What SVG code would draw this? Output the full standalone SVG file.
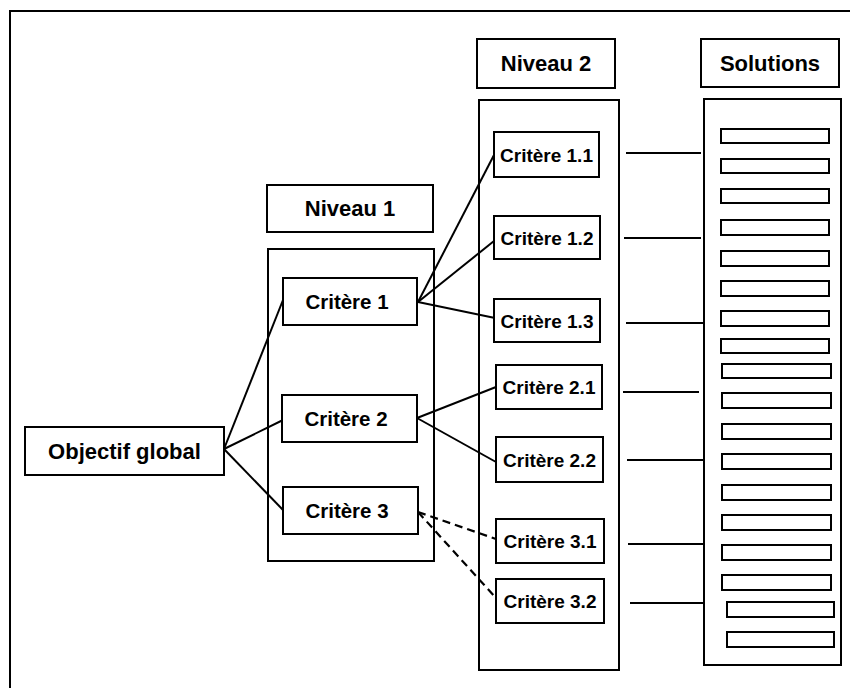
<svg xmlns="http://www.w3.org/2000/svg" width="850" height="688" viewBox="0 0 850 688">
<style>
.b{fill:#fff;stroke:#000;stroke-width:2}
.bar{fill:#fff;stroke:#000;stroke-width:2}
.h{font-family:"Liberation Sans",Arial,sans-serif;font-weight:bold;font-size:22px;text-anchor:middle;fill:#000}
.c{font-family:"Liberation Sans",Arial,sans-serif;font-weight:bold;font-size:20.5px;text-anchor:middle;fill:#000}
.s{font-family:"Liberation Sans",Arial,sans-serif;font-weight:bold;font-size:19px;text-anchor:middle;fill:#000}
.ln{stroke:#000;stroke-width:2;fill:none}
.d{stroke:#000;stroke-width:2.2;fill:none;stroke-dasharray:8 5}
</style>
<rect width="850" height="688" fill="#fff"/>
<path d="M10 688 V11 H850" fill="none" stroke="#000" stroke-width="2"/>

<g id="columns">
<rect class="b" x="268" y="249" width="166" height="312"/>
<rect class="b" x="479" y="100" width="140" height="570"/>
<rect class="b" x="704" y="99" width="137" height="566"/>
</g>

<g id="connectors">
<line class="ln" x1="224" y1="449" x2="283" y2="300"/>
<line class="ln" x1="224" y1="449" x2="283" y2="420"/>
<line class="ln" x1="224" y1="449" x2="283" y2="510"/>
<line class="ln" x1="418" y1="302" x2="494" y2="155"/>
<line class="ln" x1="418" y1="302" x2="494" y2="241"/>
<line class="ln" x1="418" y1="302" x2="495" y2="318"/>
<line class="ln" x1="417" y1="418" x2="496" y2="387"/>
<line class="ln" x1="417" y1="418" x2="496" y2="462"/>
<line class="d" x1="418" y1="512" x2="496" y2="539"/>
<line class="d" x1="418" y1="512" x2="496" y2="598"/>
<line class="ln" x1="626" y1="153" x2="701" y2="153"/>
<line class="ln" x1="624" y1="238" x2="701" y2="238"/>
<line class="ln" x1="626" y1="323" x2="703" y2="323"/>
<line class="ln" x1="623" y1="392" x2="699" y2="392"/>
<line class="ln" x1="627" y1="460" x2="703" y2="460"/>
<line class="ln" x1="628" y1="544" x2="704" y2="544"/>
<line class="ln" x1="630" y1="603" x2="705" y2="603"/>
</g>

<g id="header-niveau1"><rect class="b" x="267" y="185" width="166" height="47"/><text class="h" x="350" y="216">Niveau 1</text></g>
<g id="header-niveau2"><rect class="b" x="477" y="39" width="138" height="49"/><text class="h" x="546" y="71">Niveau 2</text></g>
<g id="header-solutions"><rect class="b" x="701" y="39" width="138" height="48"/><text class="h" x="770" y="71">Solutions</text></g>

<g id="objectif"><rect class="b" x="25" y="427" width="199" height="48"/><text class="h" x="124.5" y="459">Objectif global</text></g>

<g id="critere1"><rect class="b" x="283" y="278" width="134" height="47"/><text class="c" x="347" y="309">Critère 1</text></g>
<g id="critere2"><rect class="b" x="282" y="395" width="135" height="47"/><text class="c" x="346" y="426">Critère 2</text></g>
<g id="critere3"><rect class="b" x="283" y="487" width="135" height="47"/><text class="c" x="347" y="518">Critère 3</text></g>

<g id="critere1-1"><rect class="b" x="494" y="132" width="105" height="45"/><text class="s" x="546.5" y="161.5">Critère 1.1</text></g>
<g id="critere1-2"><rect class="b" x="494" y="216" width="106" height="43"/><text class="s" x="547" y="244.5">Critère 1.2</text></g>
<g id="critere1-3"><rect class="b" x="494" y="299" width="106" height="43"/><text class="s" x="547" y="327.5">Critère 1.3</text></g>
<g id="critere2-1"><rect class="b" x="496" y="365" width="106" height="44"/><text class="s" x="549" y="394">Critère 2.1</text></g>
<g id="critere2-2"><rect class="b" x="496" y="437" width="107" height="45"/><text class="s" x="549.5" y="466.5">Critère 2.2</text></g>
<g id="critere3-1"><rect class="b" x="496" y="519" width="108" height="44"/><text class="s" x="550" y="548">Critère 3.1</text></g>
<g id="critere3-2"><rect class="b" x="496" y="579" width="108" height="44"/><text class="s" x="550" y="608">Critère 3.2</text></g>

<g id="solutions">
<rect class="bar" x="721" y="129" width="108" height="14"/>
<rect class="bar" x="721" y="159" width="108" height="14"/>
<rect class="bar" x="721" y="189" width="108" height="14"/>
<rect class="bar" x="721" y="220" width="108" height="15"/>
<rect class="bar" x="721" y="251" width="108" height="15"/>
<rect class="bar" x="721" y="281" width="108" height="15"/>
<rect class="bar" x="721" y="311" width="108" height="15"/>
<rect class="bar" x="721" y="339" width="108" height="14"/>
<rect class="bar" x="722" y="364" width="109" height="14"/>
<rect class="bar" x="722" y="393" width="109" height="15"/>
<rect class="bar" x="722" y="424" width="109" height="15"/>
<rect class="bar" x="722" y="454" width="109" height="15"/>
<rect class="bar" x="722" y="485" width="109" height="15"/>
<rect class="bar" x="722" y="515" width="109" height="15"/>
<rect class="bar" x="722" y="545" width="109" height="15"/>
<rect class="bar" x="722" y="575" width="109" height="15"/>
<rect class="bar" x="727" y="602" width="107" height="15"/>
<rect class="bar" x="727" y="632" width="107" height="15"/>
</g>
</svg>
